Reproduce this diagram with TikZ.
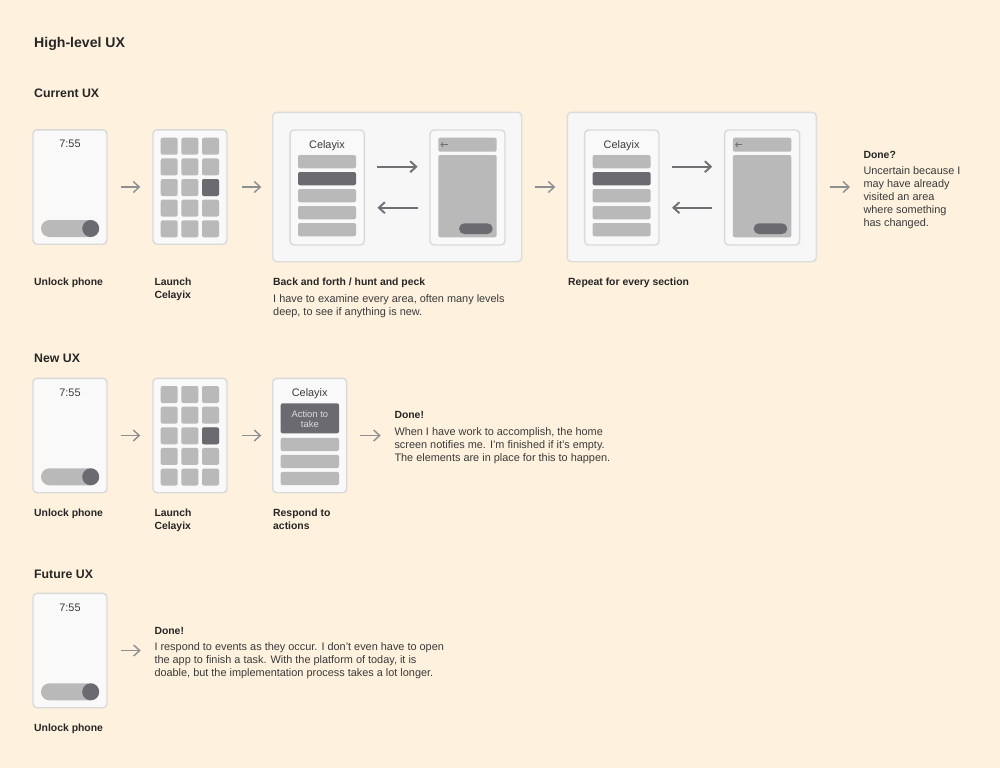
\documentclass[tikz,border=0pt]{standalone}
\usepackage{fontspec}
\setmainfont{Liberation Sans}
\usetikzlibrary{arrows.meta,calc}
\definecolor{bg}{HTML}{FEF1DE}
\definecolor{phonefill}{HTML}{F9F9F9}
\definecolor{phoneborder}{HTML}{D9D9D9}
\definecolor{boxfill}{HTML}{F7F7F7}
\definecolor{boxborder}{HTML}{DCDCDC}
\definecolor{lightg}{HTML}{B9B9B9}
\definecolor{darkg}{HTML}{6B6A70}
\definecolor{arrowc}{HTML}{8E8E93}
\definecolor{darkarrow}{HTML}{707074}
\definecolor{textc}{HTML}{262626}
\definecolor{bodyc}{HTML}{3A3A3A}
\definecolor{acttextc}{HTML}{DCDCDC}
\tikzset{
  phone/.style={draw=phoneborder, fill=phonefill, line width=1.4pt, rounded corners=4pt, minimum width=74pt, minimum height=114.4pt, inner sep=0pt},
  bigbox/.style={draw=boxborder, fill=boxfill, line width=1.4pt, rounded corners=4pt, minimum width=249pt, minimum height=149.4pt, inner sep=0pt},
  flow/.style={draw=arrowc, line width=1.4pt, -{Straight Barb[length=6pt,width=11pt]}},
  backforth/.style={draw=darkarrow, line width=1.9pt, -{Straight Barb[length=6pt,width=11pt]}},
  backglyph/.style={draw=darkarrow, line width=0.8pt, -{Straight Barb[length=2pt,width=4.5pt]}},
  htitle/.style={anchor=north west, inner sep=0pt, text=textc, font=\fontsize{14.1}{17}\selectfont\bfseries},
  hsec/.style={anchor=north west, inner sep=0pt, text=textc, font=\fontsize{12.3}{15}\selectfont\bfseries},
  lbl/.style={anchor=north west, inner sep=0pt, align=left, text=textc, font=\fontsize{10.4}{13}\selectfont\bfseries},
  body/.style={anchor=north west, inner sep=0pt, align=left, text=bodyc, font=\fontsize{10.9}{12.8}\selectfont},
  scrtext/.style={anchor=north, inner sep=0pt, text=bodyc, font=\fontsize{10.9}{13}\selectfont},
  acttext/.style={inner sep=0pt, align=center, text=acttextc, font=\fontsize{9.4}{10.3}\selectfont},
  blk/.style={fill=lightg, rounded corners=2pt},
  dblk/.style={fill=darkg, rounded corners=2pt}
}
% lock screen contents: #1,#2 top-left, #3 name
\newcommand{\lockscr}[3]{%
\begin{scope}[shift={(#1,#2)}]
\node[scrtext] (#3) at (37,10) {7:55};
\fill[lightg, rounded corners=8.5pt] (8,90) rectangle (66,107);
\fill[darkg] (57.7,98.5) circle (8.5pt);
\end{scope}}
\newcommand{\gridscr}[2]{%
\begin{scope}[shift={(#1,#2)}]
\foreach \i in {0,1,2}{\foreach \j in {0,...,4}{\fill[blk] (7.7+20.65*\i,7.7+20.65*\j) rectangle ++(17,17);}}
\fill[dblk] (49,49) rectangle ++(17,17);
\end{scope}}
\newcommand{\listscr}[3]{%
\begin{scope}[shift={(#1,#2)}]
\node[scrtext] (#3) at (37,10) {Celayix};
\foreach \j in {0,2,3,4}{\fill[blk] (8,25+17*\j) rectangle ++(58,13.3);}
\fill[dblk] (8,42) rectangle ++(58,13.3);
\end{scope}}
\newcommand{\detailscr}[2]{%
\begin{scope}[shift={(#1,#2)}]
\fill[blk] (8.3,7.7) rectangle (66.7,21.7);
\draw[backglyph] (17.5,14.7) -- (10.5,14.7);
\fill[blk] (8.3,25) rectangle (66.7,107.3);
\fill[darkg, rounded corners=5.3pt] (29,93.3) rectangle (62.7,104);
\end{scope}}
\begin{document}
\begin{tikzpicture}[x=1pt,y=-1pt]
\fill[bg] (0,0) rectangle (1000,768);
\useasboundingbox (0,0) rectangle (1000,768);

% headings
\node[htitle] (title) at (34,36.7) {High-level UX};
\node[hsec] (cur) at (34,89) {Current UX};
\node[hsec] (new) at (34,353.6) {New UX};
\node[hsec] (fut) at (34,570) {Future UX};

% ---------- Current UX ----------
\node[phone] (p1) at (70,187) {};
\lockscr{33}{130}{t1}
\node[phone] (g1) at (190,187) {};
\gridscr{153}{130}
\node[bigbox] (b1) at (397.2,187) {};
\node[phone, minimum width=74.3pt, minimum height=115pt] (lp1) at (327.2,187.5) {};
\listscr{290}{130}{c1}
\node[phone, minimum width=75pt, minimum height=115pt] (rp1) at (467.5,187.5) {};
\detailscr{430}{130}
\node[bigbox] (b2) at (691.8,187) {};
\node[phone, minimum width=74.3pt, minimum height=115pt] (lp2) at (621.8,187.5) {};
\listscr{584.6}{130}{c2}
\node[phone, minimum width=75pt, minimum height=115pt] (rp2) at (762.1,187.5) {};
\detailscr{724.6}{130}
\coordinate (e1) at (850,187);

\draw[flow, shorten <=13pt, shorten >=12pt] (p1.east) -- (g1.west);
\draw[flow, shorten <=14pt, shorten >=10.7pt] (g1.east) -- (b1.west);
\draw[flow, shorten <=12.3pt, shorten >=11.3pt] (b1.east) -- (b2.west);
\draw[flow, shorten <=12.7pt] (b2.east) -- (e1);
\draw[backforth, shorten <=12.4pt, shorten >=11.7pt] ($(lp1.east)+(0,-20.8)$) -- ($(rp1.west)+(0,-20.8)$);
\draw[backforth, shorten <=11.7pt, shorten >=12.4pt] ($(rp1.west)+(0,20.2)$) -- ($(lp1.east)+(0,20.2)$);
\draw[backforth, shorten <=12.4pt, shorten >=11.7pt] ($(lp2.east)+(0,-20.8)$) -- ($(rp2.west)+(0,-20.8)$);
\draw[backforth, shorten <=11.7pt, shorten >=12.4pt] ($(rp2.west)+(0,20.2)$) -- ($(lp2.east)+(0,20.2)$);

\node[lbl] (l11) at (34,277.5) {Unlock phone};
\node[lbl] (l12) at (154.3,277.5) {Launch\\Celayix};
\node[lbl] (l13) at (273,277.3) {Back and forth / hunt and peck};
\node[body] (d13) at (273,294.3) {I have to examine every area, often many levels\\deep, to see if anything is new.};
\node[lbl] (l14) at (568,277.3) {Repeat for every section};
\node[lbl] (done1) at (863.3,150.7) {Done?};
\node[body] (dd1) at (863.3,166.7) {Uncertain because I\\may have already\\visited an area\\where something\\has changed.};

% ---------- New UX ----------
\node[phone] (p2) at (70,435.5) {};
\lockscr{33}{378.3}{t2}
\node[phone] (g2) at (190,435.5) {};
\gridscr{153}{378.3}
\node[phone] (r2) at (309.7,435.5) {};
\begin{scope}[shift={(272.7,378.3)}]
\node[scrtext] (c3) at (37,10) {Celayix};
\fill[dblk] (8,25) rectangle (66.3,55);
\node[acttext] (act) at (37.15,40.5) {Action to\\take};
\foreach \y in {59.5,76.5,93.5}{\fill[blk] (8,\y) rectangle ++(58.3,13.3);}
\end{scope}
\coordinate (e2) at (380.7,435.5);
\draw[flow, shorten <=13pt, shorten >=12pt] (p2.east) -- (g2.west);
\draw[flow, shorten <=14pt, shorten >=10.7pt] (g2.east) -- (r2.west);
\draw[flow, shorten <=12.6pt] (r2.east) -- (e2);

\node[lbl] (l21) at (34,509) {Unlock phone};
\node[lbl] (l22) at (154.3,509) {Launch\\Celayix};
\node[lbl] (l23) at (273,509) {Respond to\\actions};
\node[lbl] (done2) at (394.3,411) {Done!};
\node[body] (dd2) at (394.3,427.7) {When I have work to accomplish, the home\\screen notifies me. I'm finished if it's empty.\\The elements are in place for this to happen.};

% ---------- Future UX ----------
\node[phone] (p3) at (70,650.5) {};
\lockscr{33}{593.3}{t3}
\coordinate (e3) at (140.7,650.5);
\draw[flow, shorten <=13pt] (p3.east) -- (e3);
\node[lbl] (l31) at (34,723.3) {Unlock phone};
\node[lbl] (done3) at (154.3,626.7) {Done!};
\node[body] (dd3) at (154.3,642.7) {I respond to events as they occur. I don't even have to open\\the app to finish a task. With the platform of today, it is\\doable, but the implementation process takes a lot longer.};
\end{tikzpicture}
\end{document}
